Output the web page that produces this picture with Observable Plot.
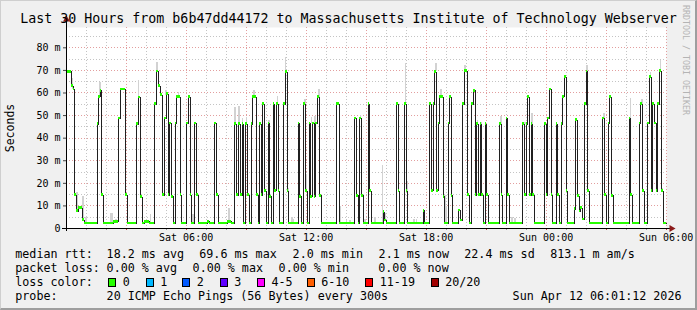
<!DOCTYPE html>
<html><head><meta charset="utf-8">
<script src="https://cdn.jsdelivr.net/npm/d3@7"></script>
<script src="https://cdn.jsdelivr.net/npm/@observablehq/plot@0.6"></script>
<style>
html,body{margin:0;padding:0;background:#fff;}
#chart{position:relative;width:697px;height:310px;background:#f0f0f0;overflow:hidden;font-family:"DejaVu Sans Mono",monospace;color:#000;box-sizing:border-box;}
#chart .t{position:absolute;white-space:pre;line-height:14px;font-size:11.7px;}
#chart svg{position:absolute;left:0;top:0;}
.box{position:absolute;width:8px;height:9px;border:1px solid #000;box-sizing:border-box;}
</style></head><body><div id="chart"></div><script>
// ---- data (minutes after Sat 00:00, values in ms) ----
const titleText = "Last 30 Hours from b6b47dd44172 to Massachusetts Institute of Technology Webserver";
const xDomain = [1.2, 1801.2];
const yDomain = [0, 89];
const medianStart = [2,17,21,25,32,38,48,54,93,98,102,107,112,143,157,162,177,183,210,217,222,228,235,250,265,272,278,283,290,295,301,307,311,317,323,327,332,342,347,362,367,372,377,384,390,396,423,430,445,451,456,485,495,505,510,517,523,528,533,538,545,550,555,560,570,577,580,585,590,596,601,606,611,616,621,626,631,636,641,653,657,663,668,696,701,706,713,719,724,729,734,739,744,749,755,761,766,812,820,865,871,876,881,886,891,906,911,916,951,956,961,991,996,1001,1014,1020,1025,1071,1076,1090,1097,1101,1105,1111,1116,1121,1131,1135,1146,1150,1155,1160,1178,1184,1190,1195,1205,1210,1217,1222,1227,1232,1237,1242,1247,1252,1257,1262,1267,1300,1305,1310,1320,1325,1330,1370,1375,1380,1385,1390,1395,1400,1405,1435,1440,1445,1450,1455,1460,1470,1475,1480,1485,1489,1494,1500,1505,1524,1529,1534,1539,1544,1549,1554,1560,1565,1570,1610,1615,1620,1626,1631,1637,1641,1689,1694,1699,1719,1724,1729,1734,1745,1750,1755,1760,1765,1770,1775,1780,1786,1791];
const medianValue = [69.3,63,61.5,14.7,7.6,9,3.7,2.2,46.2,58.2,61,14.7,2.2,2.9,48.7,61.5,14.7,2.2,46.2,58,14,2.2,3,2.2,55,69.5,63,59,14.7,48.7,59.5,14.7,46.5,14,2.2,46.5,58.3,14.7,2.2,46.5,58.3,14.7,2.2,46.5,14.7,2.2,3,2.2,46.5,14.7,2.2,3,2.2,46.2,14.7,46.2,14.7,46.2,2.2,46.2,14.7,2.2,46.2,58.2,14.7,2.2,46.2,14.7,55,16.6,2.2,46.5,14,2.2,55,16.6,55,16.6,2.2,55,69.3,16.6,2.2,46.5,14,2.2,55,16.6,2.2,46.5,14,46.5,14,46.5,58.2,14.5,2.2,55,2.2,48.7,14.5,2.2,48.7,14.5,2.2,55,16.6,2.2,7.3,3.5,2.2,55,16.6,2.2,55,16.6,2.2,7.8,2.2,55,16.6,55,69.3,16.6,46.5,58.2,14,2.2,46.5,58.2,14.5,2.2,8,3.6,55,69.7,14.7,2.2,55,61,14.7,46.2,14.7,46.2,14.7,2.2,46.2,14.7,2.2,46.2,14.7,2.2,48.7,14.7,2.2,46.2,14.7,46.2,58.2,14.7,46.2,14.7,2.2,46.2,14.7,48.7,61.5,14.7,2.2,46.2,14.7,2.2,46.2,58.2,67,16.6,2.2,8.5,48,14.4,7.5,9,4,55,69.5,16.6,2.2,48.7,14.7,2.2,46.5,58.2,14.5,2.2,48.7,14.7,2.2,46.5,55,16.6,2.2,46.5,67,16.6,55,46.5,16.6,55,69.6,16.6,2.2];
const smokeStart = [18,32,50,58,100,133,138,148,216,222,252,272,298,336,379,425,488,505,517,528,540,562,608,633,657,664,676,681,716,720,735,745,757,820,840,850,882,895,925,948,955,1017,1022,1042,1050,1108,1124,1135,1140,1196,1233,1243,1303,1337,1345,1376,1397,1561,1612,1620,1692,1727,1752,1782,1787];
const smokeLow = [61.5,7.6,3.7,2.2,58,2.2,2.2,2.9,58,14,2.2,69.5,59,58.3,2.2,2.2,2.2,46.2,46.2,46.2,46.2,58.2,46.5,55,69.3,16.6,2.2,2.2,55,16.6,46.5,46.5,58.2,2.2,2.2,2.2,48.7,2.2,2.2,2.2,3.5,55,16.6,2.2,2.2,69.3,58.2,2.2,2.2,69.7,46.2,46.2,46.2,2.2,2.2,46.2,46.2,69.5,48.7,2.2,48.7,55,67,69.6,16.6];
const smokeHigh = [66.5,16,14,5,64.5,6.6,6.6,3.8,65.4,16,6,73.5,61,60.2,6,3.6,9,53.6,53.8,48.7,49,61,48,58.6,75.5,17.5,5,4,57,24,49,49.5,61.5,9.6,3.6,3.6,50,4,5,28,6.8,73,21,4,4,73,61.5,14.7,9.6,72,48,47,49.5,5,4.5,47,51,72,51,6,57.5,57,69,74.5,17.5];
const xTickMinutes = [360, 720, 1080, 1440, 1800];
const xTickLabels = ["Sat 06:00", "Sat 12:00", "Sat 18:00", "Sun 00:00", "Sun 06:00"];
const yTickValues = [0, 10, 20, 30, 40, 50, 60, 70, 80];
const yTickLabels = ["0", "10 m", "20 m", "30 m", "40 m", "50 m", "60 m", "70 m", "80 m"];
const lossLabels = ["0", "1", "2", "3", "4-5", "6-10", "11-19", "20/20"];
const lossColors = ["#26ff00", "#00b8ff", "#0059ff", "#5e00ff", "#ff00ff", "#ff5e00", "#ff0000", "#a10000"];
const legendRows = [
  ["median rtt:", "18.2 ms avg", "69.6 ms max", "2.0 ms min", "2.1 ms now", "22.4 ms sd", "813.1 m am/s"],
  ["packet loss:", "0.00 % avg", "0.00 % max", "0.00 % min", "0.00 % now"],
  ["loss color:"],
  ["probe:", "20 ICMP Echo Pings (56 Bytes) every 300s", "Sun Apr 12 06:01:12 2026"]
];
const yAxisTitle = "Seconds";
const watermark = "RRDTOOL / TOBI OETIKER";

// ---- layout ----
const legendX = [[16,107.3,200,293.3,379.3,465,551],[16,107.3,193.3,279.3,379],[16],[16,107.3,513.3]];
const legendY = [254.3, 268.3, 282.3, 296.3];
const boxX = [108.3,145.7,182.3,219.7,257,306.7,365.3,430.7];

const segs = medianStart.map((s, i) => ({s, e: i + 1 < medianStart.length ? medianStart[i + 1] : xDomain[1] - 0.2, v: medianValue[i]}));
const linePts = segs.map(d => ({t: d.s, v: d.v})).concat([{t: segs[segs.length - 1].e, v: segs[segs.length - 1].v}]);
const smoke = smokeStart.map((s, i) => ({s, e: s + 5, lo: smokeLow[i], hi: smokeHigh[i]}));

const hours = d3.range(60, 1801, 60);
const minorX = hours.filter(h => h % 180 !== 0);
const majorX = hours.filter(h => h % 180 === 0);
const minorY = d3.range(5, 89, 10);
const majorY = d3.range(10, 81, 10);
const gridMinor = "#c4c4c4", gridMajor = "#e29e9e";
const crisp = {shapeRendering: "crispEdges"};

const plot = Plot.plot({
  width: 697, height: 310,
  marginLeft: 66, marginRight: 31, marginTop: 27, marginBottom: 82,
  style: {background: "transparent", fontFamily: "DejaVu Sans Mono", fontSize: "10px"},
  x: {type: "linear", domain: xDomain, axis: null},
  y: {type: "linear", domain: yDomain, axis: null},
  marks: [
    Plot.frame({fill: "white", stroke: null}),
    Plot.ruleX(minorX, {stroke: gridMinor, strokeDasharray: "1,2", ...crisp}),
    Plot.ruleY(minorY, {stroke: gridMinor, strokeDasharray: "1,2", ...crisp}),
    Plot.ruleX(majorX, {stroke: gridMajor, strokeDasharray: "1,2", ...crisp}),
    Plot.ruleY(majorY, {stroke: gridMajor, strokeDasharray: "1,2", ...crisp}),
    Plot.rect(smoke, {x1: "s", x2: "e", y1: "lo", y2: "hi", fill: "#d2d2d2", ...crisp}),
    Plot.line(linePts, {x: "t", y: "v", curve: "step-after", stroke: "#202020", strokeWidth: 1, ...crisp}),
    Plot.rect(segs, {x1: "s", x2: "e", y1: d => d.v - 0.6, y2: d => d.v + 0.6, fill: lossColors[0], ...crisp}),
    Plot.axisY({ticks: yTickValues, tickFormat: (d, i) => yTickLabels[i], tickSize: 3, tickPadding: 3, fontSize: 10, stroke: "#444"}),
    Plot.ruleX(hours, {y1: 0, y2: -0.9, stroke: d => d % 180 === 0 ? "#c04040" : "#999", ...crisp}),
    Plot.axisX({ticks: xTickMinutes, tickFormat: (d, i) => xTickLabels[i], tickSize: 0, tickPadding: 5, fontSize: 10}),
    Plot.ruleY([0], {x1: xDomain[0] - 12, x2: xDomain[1] + 12, stroke: "#000", ...crisp}),
    Plot.ruleX([xDomain[0]], {y1: -1.5, y2: yDomain[1] + 2.5, stroke: "#000", ...crisp}),
    Plot.dot([{x: xDomain[1] + 15, y: 0, r: 90}, {x: xDomain[0], y: yDomain[1] + 3.5, r: 0}], {x: "x", y: "y", rotate: "r", symbol: "triangle", r: 2.6, fill: "#8b1a1a", stroke: null})
  ]
});
const chart = document.getElementById("chart");
chart.appendChild(plot);

function addText(txt, x, yc, cls, extra) {
  const d = document.createElement("div");
  d.className = "t";
  d.textContent = txt;
  d.style.left = x + "px";
  d.style.top = (yc - 7) + "px";
  if (extra) Object.assign(d.style, extra);
  chart.appendChild(d);
  return d;
}
// title
addText(titleText, 0, 19, "t", {width: "697px", textAlign: "center", fontSize: "13.3px", lineHeight: "16px", top: "11px"});
// legend
legendRows.forEach((row, r) => row.forEach((txt, j) => addText(txt, legendX[r][j] - 0.7, legendY[r])));
lossLabels.forEach((lab, i) => {
  const b = document.createElement("div");
  b.className = "box";
  b.style.left = boxX[i] + "px";
  b.style.top = (legendY[2] - 4.5) + "px";
  b.style.background = lossColors[i];
  chart.appendChild(b);
  addText(lab, boxX[i] + 14.5, legendY[2]);
});
// y title
const yt = document.createElement("div");
yt.className = "t";
yt.textContent = yAxisTitle;
Object.assign(yt.style, {left: "10px", top: "128px", fontSize: "11.5px", transform: "translate(-50%,-50%) rotate(-90deg)"});
chart.appendChild(yt);
// watermark
const wm = document.createElement("div");
wm.className = "t";
wm.textContent = watermark;
Object.assign(wm.style, {left: "681px", top: "5px", fontSize: "8.3px", lineHeight: "10px", writingMode: "vertical-rl", color: "#b4b4b4"});
chart.appendChild(wm);
// frame shading
const fr = document.createElement("div");
Object.assign(fr.style, {position: "absolute", left: 0, top: 0, width: "697px", height: "310px", boxSizing: "border-box", borderTop: "1px solid #cfcfcf", borderLeft: "1px solid #cfcfcf", borderRight: "2px solid #9e9e9e", borderBottom: "2px solid #9e9e9e", pointerEvents: "none"});
chart.appendChild(fr);
</script></body></html>
